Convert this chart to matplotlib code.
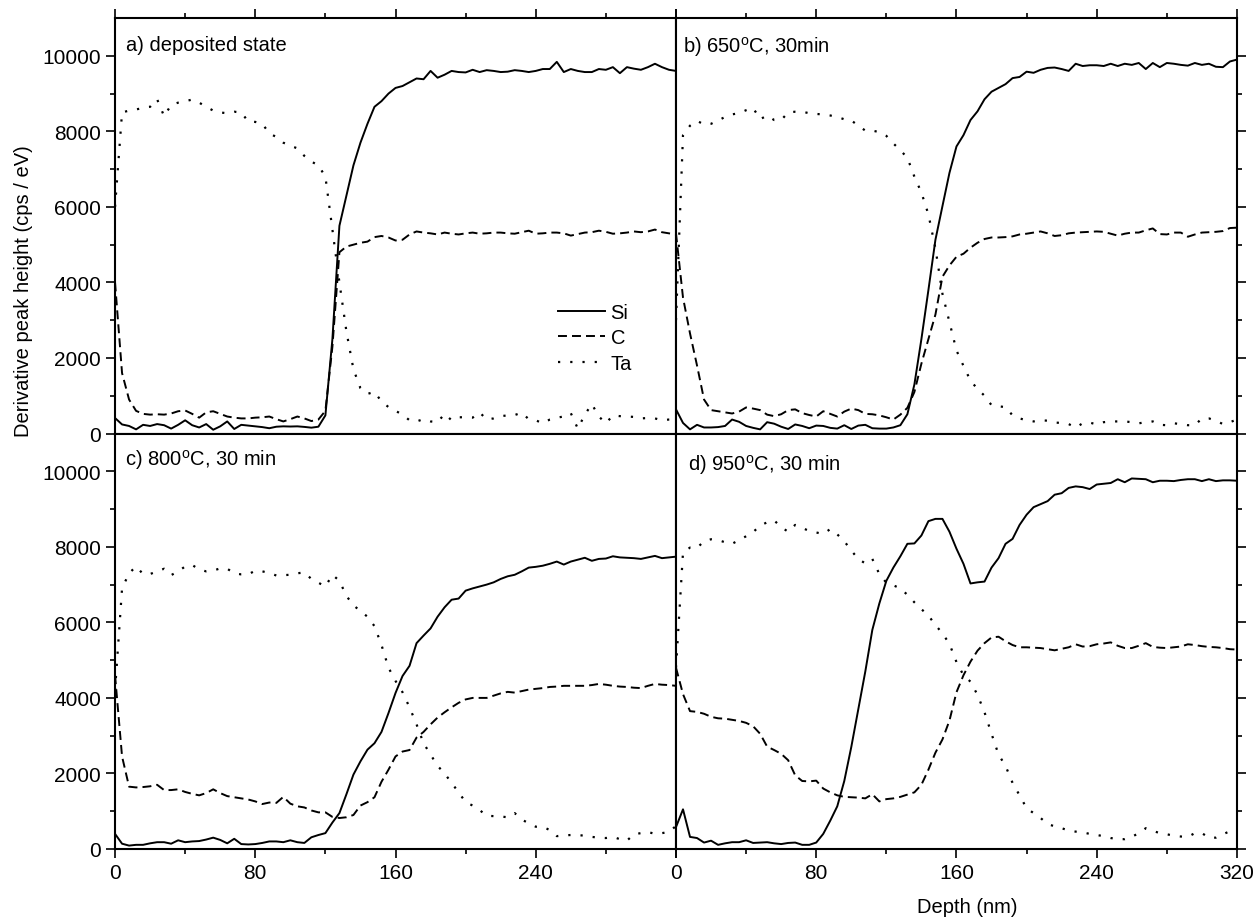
# Depth profiles of Si, C and Ta after annealing (four panels)
import numpy as np
import matplotlib.pyplot as plt

plt.rcParams['font.family'] = ['Liberation Sans', 'DejaVu Sans']
plt.rcParams['mathtext.fontset'] = 'custom'
plt.rcParams['mathtext.rm'] = 'Liberation Sans'
plt.rcParams['font.size'] = 14.5

# Depth axis (nm), one point every 4 nm
depth = np.arange(0, 321, 4)

# a) deposited state
si_a = [410, 240, 200, 110, 230, 200, 250, 220, 130, 230,
        350, 220, 160, 250, 100, 190, 320, 120, 230, 210,
        190, 170, 140, 180, 190, 185, 190, 175, 155, 180,
        480, 2500, 5500, 6300, 7100, 7700, 8200, 8650, 8800, 9000,
        9150, 9200, 9300, 9400, 9380, 9600, 9420, 9500, 9600, 9570,
        9560, 9630, 9570, 9620, 9600, 9570, 9580, 9620, 9600, 9570,
        9600, 9650, 9650, 9840, 9570, 9650, 9600, 9570, 9570, 9650,
        9630, 9700, 9540, 9700, 9660, 9630, 9700, 9790, 9700, 9630,
        9600]
c_a = [4000, 1600, 900, 600, 520, 500, 510, 500, 530, 590,
       610, 520, 420, 560, 590, 520, 450, 420, 400, 400,
       420, 430, 450, 380, 320, 380, 450, 400, 330, 370,
       600, 2300, 4800, 4950, 5000, 5050, 5080, 5200, 5230, 5190,
       5110, 5130, 5270, 5350, 5320, 5300, 5270, 5320, 5290, 5270,
       5300, 5320, 5290, 5300, 5320, 5320, 5300, 5290, 5330, 5370,
       5290, 5300, 5320, 5320, 5300, 5240, 5280, 5320, 5330, 5370,
       5340, 5290, 5300, 5320, 5350, 5330, 5350, 5400, 5330, 5300,
       5270]
ta_a = [6000, 8500, 8550, 8580, 8620, 8650, 8850, 8400, 8700, 8760,
        8800, 8840, 8760, 8650, 8550, 8500, 8480, 8520, 8500, 8260,
        8250, 8200, 7950, 7850, 7700, 7620, 7550, 7350, 7200, 7100,
        6800, 5400, 4000, 2700, 1700, 1200, 1050, 1100, 850, 700,
        600, 500, 350, 320, 380, 320, 300, 520, 350, 430,
        430, 420, 560, 370, 400, 460, 480, 490, 550, 380,
        350, 270, 370, 420, 450, 540, 130, 500, 780, 450,
        270, 480, 460, 450, 440, 400, 410, 400, 350, 370,
        380]

# b) 650 C, 30 min
si_b = [640, 280, 110, 230, 160, 160, 170, 200, 370, 310,
        200, 150, 110, 300, 260, 180, 120, 240, 200, 140,
        210, 200, 150, 130, 220, 120, 210, 230, 140, 130,
        130, 160, 220, 510, 1300, 2500, 3800, 5130, 6020, 6900,
        7600, 7900, 8300, 8530, 8850, 9050, 9150, 9250, 9410, 9440,
        9580, 9550, 9630, 9680, 9690, 9650, 9600, 9790, 9730, 9750,
        9750, 9730, 9790, 9730, 9790, 9760, 9810, 9650, 9810, 9700,
        9810, 9790, 9760, 9740, 9810, 9760, 9790, 9710, 9700, 9850,
        9900]
c_b = [5300, 3600, 2650, 1800, 900, 620, 590, 560, 530, 580,
       690, 660, 620, 500, 460, 510, 620, 640, 540, 490,
       450, 590, 520, 450, 580, 660, 620, 520, 510, 480,
       430, 370, 500, 680, 1100, 1850, 2500, 3150, 4150, 4450,
       4680, 4760, 4920, 5050, 5150, 5190, 5190, 5200, 5220, 5270,
       5290, 5320, 5350, 5300, 5230, 5250, 5300, 5320, 5330, 5340,
       5350, 5340, 5290, 5240, 5290, 5320, 5320, 5380, 5430, 5280,
       5270, 5320, 5320, 5210, 5270, 5320, 5330, 5340, 5360, 5440,
       5450]
ta_b = [3000, 7900, 8150, 8280, 8180, 8200, 8290, 8380, 8450, 8480,
        8560, 8620, 8320, 8420, 8300, 8300, 8500, 8520, 8520, 8480,
        8460, 8450, 8420, 8380, 8320, 8290, 8150, 8020, 8020, 7980,
        7880, 7680, 7500, 7300, 6800, 6380, 5800, 4900, 3700, 2950,
        2200, 1790, 1400, 1180, 1000, 750, 720, 700, 480, 400,
        350, 320, 350, 340, 290, 280, 250, 160, 270, 290,
        240, 300, 320, 320, 320, 300, 270, 300, 320, 230,
        220, 270, 250, 220, 220, 400, 400, 340, 250, 300,
        370]

# c) 800 C, 30 min
si_c = [400, 140, 90, 110, 110, 150, 180, 180, 140, 230,
        180, 200, 210, 250, 300, 240, 150, 270, 130, 120,
        130, 160, 200, 200, 180, 230, 180, 160, 310, 370,
        420, 700, 950, 1450, 1970, 2320, 2630, 2800, 3100, 3600,
        4130, 4580, 4850, 5450, 5650, 5840, 6150, 6400, 6600, 6630,
        6840, 6900, 6950, 7000, 7060, 7150, 7220, 7260, 7350, 7450,
        7470, 7500, 7550, 7610, 7530, 7610, 7660, 7710, 7630, 7680,
        7690, 7750, 7720, 7710, 7700, 7680, 7720, 7760, 7700, 7720,
        7740]
c_c = [4600, 2450, 1650, 1630, 1640, 1660, 1700, 1560, 1560, 1580,
       1510, 1460, 1420, 1480, 1580, 1480, 1400, 1370, 1340, 1310,
       1260, 1190, 1230, 1220, 1380, 1200, 1130, 1100, 1020, 970,
       970, 850, 820, 840, 900, 1150, 1240, 1370, 1780, 2100,
       2450, 2580, 2620, 2950, 3100, 3300, 3480, 3620, 3750, 3870,
       3960, 4000, 4000, 4000, 4060, 4120, 4160, 4140, 4180, 4220,
       4240, 4260, 4290, 4300, 4320, 4320, 4320, 4320, 4340, 4370,
       4350, 4320, 4300, 4290, 4270, 4260, 4320, 4370, 4350, 4340,
       4320]
ta_c = [4200, 6900, 7300, 7480, 7280, 7280, 7350, 7420, 7250, 7350,
        7480, 7520, 7400, 7350, 7370, 7430, 7420, 7300, 7270, 7270,
        7370, 7350, 7310, 7240, 7250, 7260, 7300, 7320, 7150, 7050,
        6950, 7260, 7100, 6700, 6450, 6300, 6150, 5900, 5400, 4800,
        4450, 4150, 3750, 3300, 2800, 2500, 2200, 2000, 1750, 1500,
        1240, 1150, 1030, 880, 870, 860, 840, 950, 780, 680,
        590, 590, 500, 340, 360, 370, 370, 350, 320, 300,
        290, 320, 260, 220, 390, 420, 450, 400, 420, 450,
        610]

# d) 950 C, 30 min
si_d = [580, 1050, 320, 290, 170, 220, 110, 150, 180, 180,
        230, 160, 170, 180, 150, 130, 160, 170, 110, 110,
        170, 400, 750, 1130, 1800, 2700, 3700, 4700, 5800, 6500,
        7100, 7450, 7750, 8080, 8090, 8300, 8680, 8740, 8740, 8400,
        7950, 7550, 7030, 7060, 7080, 7450, 7700, 8080, 8210, 8580,
        8850, 9050, 9130, 9210, 9380, 9420, 9560, 9600, 9580, 9530,
        9650, 9670, 9690, 9790, 9710, 9810, 9800, 9790, 9710, 9750,
        9750, 9740, 9770, 9790, 9790, 9740, 9790, 9740, 9760, 9760,
        9750]
c_d = [4800, 4100, 3650, 3630, 3580, 3500, 3460, 3450, 3420, 3390,
       3340, 3250, 3050, 2710, 2620, 2520, 2350, 1950, 1800, 1790,
       1810, 1600, 1500, 1420, 1380, 1370, 1360, 1340, 1450, 1260,
       1320, 1340, 1380, 1440, 1500, 1700, 2100, 2550, 2900, 3400,
       4150, 4600, 4960, 5250, 5450, 5600, 5620, 5500, 5400, 5340,
       5340, 5330, 5320, 5290, 5260, 5300, 5340, 5420, 5360, 5370,
       5420, 5440, 5470, 5380, 5320, 5320, 5380, 5450, 5350, 5330,
       5320, 5340, 5360, 5420, 5400, 5370, 5350, 5340, 5320, 5290,
       5280]
ta_d = [4800, 7850, 7980, 7970, 8150, 8200, 8180, 8120, 8080, 8180,
        8280, 8390, 8560, 8650, 8700, 8520, 8400, 8580, 8500, 8420,
        8380, 8340, 8470, 8330, 8150, 7900, 7680, 7560, 7680, 7280,
        7050, 6980, 6900, 6730, 6530, 6350, 6180, 5930, 5710, 5430,
        4950, 4600, 4430, 4080, 3620, 3050, 2500, 2200, 1750, 1420,
        1080, 950, 820, 660, 600, 550, 490, 460, 440, 400,
        370, 340, 290, 260, 260, 320, 420, 550, 480, 420,
        390, 350, 330, 320, 420, 420, 300, 300, 390, 470,
        530]

titles = ["a) deposited state",
          "b) 650$^{\\mathrm{o}}$C, 30min",
          "c) 800$^{\\mathrm{o}}$C, 30 min",
          "d) 950$^{\\mathrm{o}}$C, 30 min"]
title_pos = [(0.02, 0.937), (0.013, 0.932), (0.017, 0.938), (0.021, 0.926)]

fig, axes = plt.subplots(2, 2, figsize=(12.6, 9.2), dpi=100)
fig.subplots_adjust(left=0.0913, right=0.9817, bottom=0.0761, top=0.9793,
                    wspace=0, hspace=0)

profiles = [(si_a, c_a, ta_a), (si_b, c_b, ta_b),
            (si_c, c_c, ta_c), (si_d, c_d, ta_d)]

for i, ax in enumerate(axes.flat):
    si, c, ta = profiles[i]
    ax.plot(depth, si, color='k', lw=1.4, label='Si')
    ax.plot(depth, c, color='k', lw=1.4, ls=(0, (4.6, 2.6)), label='C')
    ax.plot(depth, ta, color='k', lw=1.6, ls=(0, (1, 4.5)), label='Ta')

    ax.set_xlim(0, 320)
    ax.set_ylim(0, 11000)
    ax.set_xticks([0, 80, 160, 240, 320])
    ax.set_xticks(np.arange(40, 320, 80), minor=True)
    ax.set_yticks(np.arange(0, 10001, 2000))
    ax.set_yticks(np.arange(1000, 11000, 2000), minor=True)
    for s in ax.spines.values():
        s.set_linewidth(1.5)

    row, col = divmod(i, 2)
    ax.tick_params(which='both', direction='out', width=1.2, labelsize=15)
    ax.tick_params(which='major', length=6.5)
    ax.tick_params(which='minor', length=3.5)
    ax.tick_params(axis='x', which='both', top=(row == 0), bottom=True,
                   labelbottom=(row == 1))
    ax.tick_params(axis='y', which='both', left=(col == 0), right=True,
                   labelleft=(col == 0))
    if row == 1 and col == 0:
        ax.set_xticklabels(['0', '80', '160', '240', ''])

    ax.text(title_pos[i][0], title_pos[i][1], titles[i], transform=ax.transAxes,
            ha='left', va='center', fontsize=14.5)

# Legend in the first panel
axes[0, 0].legend(loc='upper left', bbox_to_anchor=(0.79, 0.315), frameon=False,
                  handlelength=2.3, handletextpad=0.3, labelspacing=0.33,
                  borderpad=0, borderaxespad=0, fontsize=14.5)

fig.text(24 / 1260, 1 - 291 / 920, "Derivative peak height (cps / eV)",
         rotation=90, ha='center', va='center', fontsize=14.5)
fig.text(967 / 1260, 1 - 908 / 920, "Depth (nm)", ha='center', va='center',
         fontsize=14.5)

fig.savefig("out.png", dpi=100)
